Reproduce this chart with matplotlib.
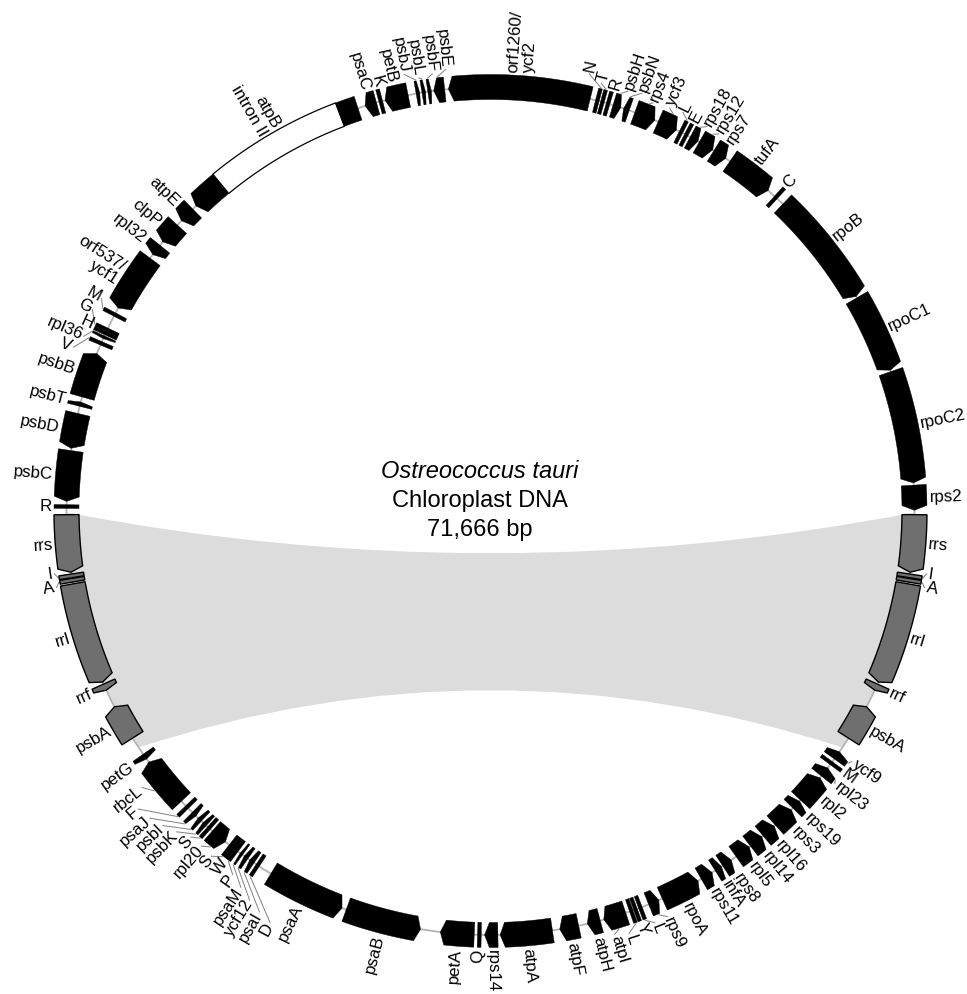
import numpy as np
import matplotlib
matplotlib.use("Agg")
import matplotlib.pyplot as plt
from matplotlib.patches import Polygon, PathPatch, Circle
from matplotlib.path import Path

# ---------------- data ----------------
GENOME_BP = 71666
title_species = "Ostreococcus tauri"
title_molecule = "Chloroplast DNA"
title_size = "71,666 bp"

# inverted repeats (bp)
ir_a = [17956, 24665]
ir_b = [47001, 53710]

gene_labels = [
    "orf1260/\nycf2", "N", "T", "R", "psbH", "psbN", "rps4", "ycf3", "L", "E",
    "rps18", "rps12", "rps7", "tufA", "C", "rpoB", "rpoC1", "rpoC2", "rps2", "rrs",
    "I", "A", "rrl", "rrf", "psbA", "ycf9", "M", "rpl23", "rpl2", "rps19",
    "rps3", "rpl16", "rpl14", "rpl5", "rps8", "infA", "rps11", "rpoA", "rps9", "L",
    "Y", "L", "atpI", "atpH", "atpF", "atpA", "rps14", "Q", "petA", "psaB",
    "psaA", "D", "psaI", "ycf12", "psaM", "P", "W", "S", "rpl20", "S",
    "psbK", "psbI", "psaJ", "F", "rbcL", "petG", "psbA", "rrf", "rrl", "A",
    "I", "rrs", "R", "psbC", "psbD", "psbT", "psbB", "V", "rpl36", "H",
    "G", "M", "orf537/\nycf1", "rpl32", "clpP", "atpE", "", "atpB\nintron II", "", "psaC",
    "K", "petB", "psbJ", "psbL", "psbF", "psbE",
]
gene_start = [
    70531, 2906, 3046, 3205, 3344, 3643, 3962, 4638, 5315, 5474,
    5594, 5873, 6330, 6848, 8421, 8680, 11905, 14094, 17220, 18016,
    19668, 19788, 19887, 22714, 23391, 24804, 25183, 25342, 25680, 26516,
    26835, 27472, 27910, 28348, 28945, 29264, 29562, 30000, 31175, 31712,
    31852, 31971, 32130, 32847, 33444, 34161, 35634, 36132, 36271, 37724,
    39914, 42462, 42582, 42781, 42960, 43159, 43258, 43358, 43537, 44114,
    44214, 44393, 44592, 44931, 45150, 46623, 47300, 48773, 49012, 51878,
    51998, 52097, 53869, 54008, 55442, 56596, 56855, 58388, 58527, 58686,
    58786, 59244, 59443, 61155, 61593, 62350, 62907, 63803, 67525, 68242,
    68680, 68799, 69655, 69814, 69974, 70133,
]
gene_end = [
    2707, 2906, 3046, 3205, 3563, 3802, 4539, 5176, 5315, 5474,
    5833, 6291, 6709, 8142, 8421, 11865, 14055, 17160, 17897, 19569,
    19668, 19788, 22654, 22893, 24366, 25043, 25183, 25620, 26477, 26775,
    27432, 27870, 28308, 28786, 29224, 29463, 29900, 31075, 31473, 31712,
    31852, 31971, 32747, 33205, 33962, 35574, 35992, 36132, 37187, 39794,
    42044, 42462, 42721, 42901, 43039, 43159, 43258, 43358, 43995, 44114,
    44333, 44512, 44731, 44931, 46523, 46782, 48275, 48952, 51778, 51878,
    51998, 53650, 53869, 55382, 56397, 56716, 58089, 58388, 58607, 58686,
    58786, 59244, 61036, 61473, 62190, 62788, 63803, 67525, 68042, 68560,
    68680, 69436, 69755, 69914, 70073, 70431,
]
gene_strand = [
    -1, 0, 0, 0, 1, -1, 1, 1, 0, 0,
    1, 1, 1, 1, 0, 1, 1, 1, 1, 1,
    0, 0, 1, 1, -1, -1, 0, -1, -1, -1,
    -1, -1, -1, -1, -1, -1, -1, -1, -1, 0,
    0, 0, 1, 1, 1, 1, 1, 0, 1, -1,
    -1, 0, 1, 1, 1, 0, 0, 0, -1, 0,
    1, 1, -1, 0, 1, -1, 1, -1, -1, 0,
    0, -1, 0, -1, -1, 1, 1, 0, -1, 0,
    0, 0, -1, -1, -1, -1, -1, 0, 0, -1,
    0, -1, 1, 1, 1, -1,
]
gene_kind = [
    "cds", "trna", "trna", "trna", "cds", "cds", "cds", "cds", "trna", "trna",
    "cds", "cds", "cds", "cds", "trna", "cds", "cds", "cds", "cds", "rrna",
    "trna", "trna", "rrna", "rrna", "cds", "cds", "trna", "cds", "cds", "cds",
    "cds", "cds", "cds", "cds", "cds", "cds", "cds", "cds", "cds", "trna",
    "trna", "trna", "cds", "cds", "cds", "cds", "cds", "trna", "cds", "cds",
    "cds", "trna", "cds", "cds", "cds", "trna", "trna", "trna", "cds", "trna",
    "cds", "cds", "cds", "trna", "cds", "cds", "cds", "rrna", "rrna", "trna",
    "trna", "rrna", "trna", "cds", "cds", "cds", "cds", "trna", "cds", "trna",
    "trna", "trna", "cds", "cds", "cds", "cds", "cds", "intron", "cds", "cds",
    "trna", "cds", "cds", "cds", "cds", "cds",
]

# ---------------- layout ----------------
W, H = 967, 994
CX, CY, R = 490.5, 511.0, 424.0
HALF = 12.5
FONT = "Liberation Sans"
LABEL_SIZE = 12.2


def deg(bp):
    return bp / GENOME_BP * 360.0


def polar(r, a):
    t = np.radians(a)
    return CX + r * np.sin(t), CY - r * np.cos(t)


def in_ir(s, e):
    if e < s:
        return False
    return (ir_a[0] <= s and e <= ir_a[1]) or (ir_b[0] <= s and e <= ir_b[1])


fig = plt.figure(figsize=(W / 100, H / 100), dpi=100)
ax = fig.add_axes([0, 0, 1, 1])
ax.set_xlim(0, W)
ax.set_ylim(H, 0)
ax.axis("off")

# ---- inverted-repeat ribbon ----
a0, a1 = deg(ir_a[0]), deg(ir_a[1])
b0, b1 = deg(ir_b[0]), deg(ir_b[1])
verts, codes = [], []
arc1 = [polar(R, a) for a in np.linspace(a0, a1, 80)]
verts += arc1
codes += [Path.MOVETO] + [Path.LINETO] * (len(arc1) - 1)
verts += [(CX, CY + 122), polar(R, b0)]
codes += [Path.CURVE3, Path.CURVE3]
arc2 = [polar(R, a) for a in np.linspace(b0, b1, 80)]
verts += arc2[1:]
codes += [Path.LINETO] * (len(arc2) - 1)
verts += [(CX, CY + 83), polar(R, a0)]
codes += [Path.CURVE3, Path.CURVE3]
verts.append(polar(R, a0))
codes.append(Path.CLOSEPOLY)
ax.add_patch(PathPatch(Path(verts, codes), facecolor="#dcdcdc", edgecolor="none", zorder=0))

# ---- backbone ----
ax.add_patch(Circle((CX, CY), R, fill=False, ec="#b4b4b4", lw=1.3, zorder=1))

# ---- genes ----
mids = []
for lab, s, e, st, kind in zip(gene_labels, gene_start, gene_end, gene_strand, gene_kind):
    ee = e + GENOME_BP if e < s else e
    g0, g1 = deg(s), deg(ee)
    if kind == "trna":
        c = g0
        g0, g1 = c - 0.25, c + 0.25
        st = 0
    mids.append(((g0 + g1) / 2) % 360)
    tip = min(0.65, 0.4 * (g1 - g0))
    n = max(2, int((g1 - g0) / 0.2) + 2)
    c0 = g0 + (tip if st < 0 else 0)
    c1 = g1 - (tip if st > 0 else 0)
    outer = [polar(R + HALF, a) for a in np.linspace(c0, c1, n)]
    inner = [polar(R - HALF, a) for a in np.linspace(c1, c0, n)]
    if st > 0:
        pts = outer + [polar(R, g1)] + inner
    elif st < 0:
        pts = outer + inner + [polar(R, g0)]
    else:
        pts = outer + inner
    if kind == "intron":
        fc, ec, lw = "white", "black", 0.9
    elif in_ir(s, e):
        fc, ec, lw = "#6f6f6f", "black", 1.0
    else:
        fc, ec, lw = "black", "black", 0.3
    ax.add_patch(Polygon(pts, closed=True, facecolor=fc, edgecolor=ec, lw=lw, zorder=3))

# ---- label placement (simple de-overlap on the circle) ----
idx = [i for i, l in enumerate(gene_labels) if l]
order = sorted(idx, key=lambda i: mids[i])
ideal = np.array([mids[i] for i in order])
half = np.array([0.9 * (gene_labels[i].count("\n") + 1) for i in order])
pos = ideal.copy()
for _ in range(3000):
    moved = False
    for k in range(len(pos) - 1):
        need = half[k] + half[k + 1]
        gap = pos[k + 1] - pos[k]
        if gap < need - 1e-6:
            p = (need - gap) / 2
            pos[k] -= p
            pos[k + 1] += p
            moved = True
    if not moved:
        break

for k, i in enumerate(order):
    la = pos[k] % 360
    d = abs(pos[k] - ideal[k])
    rl = R + 15 + (min(30, 6 * d) if d > 0.3 else 0)
    if d > 0.3:
        x0, y0 = polar(R + HALF + 1, mids[i])
        x1, y1 = polar(rl - 2, la)
        ax.plot([x0, x1], [y0, y1], color="#808080", lw=0.7, zorder=2)
    x, y = polar(rl, la)
    if la <= 180:
        rot, ha = 90 - la, "left"
    else:
        rot, ha = 270 - la, "right"
    ax.text(x, y, gene_labels[i], rotation=rot, rotation_mode="anchor", ha=ha, va="center",
            multialignment=ha, fontsize=LABEL_SIZE, family=FONT, linespacing=1.0, zorder=4)

# ---- centre title ----
ax.text(480, 472, title_species, ha="center", va="center", fontsize=17, style="italic", family=FONT)
ax.text(480, 501, title_molecule, ha="center", va="center", fontsize=17, family=FONT)
ax.text(480, 530, title_size, ha="center", va="center", fontsize=17, family=FONT)

fig.savefig("out.png", dpi=100)
